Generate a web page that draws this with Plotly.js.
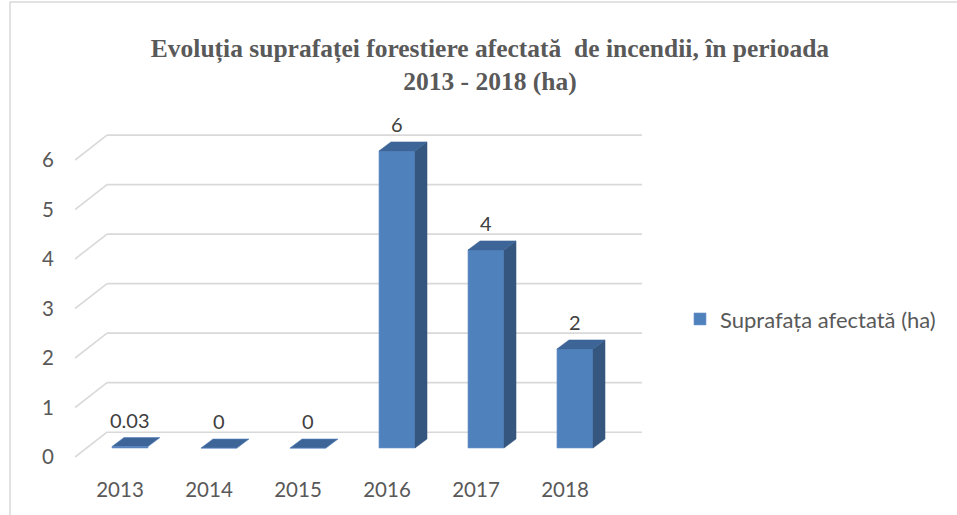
<!DOCTYPE html>
<html>
<head>
<meta charset="utf-8">
<script src="https://cdn.plot.ly/plotly-3.0.1.min.js"></script>
<style>html,body{margin:0;padding:0;background:#fff;}#chart{width:957px;height:515px;}</style>
</head>
<body>
<div id="chart"></div>
<script>
// ---- data ----
const years = ["2013", "2014", "2015", "2016", "2017", "2018"];
const values = [0.03, 0, 0, 6, 4, 2];
const valueLabels = ["0.03", "0", "0", "6", "4", "2"];
const yTicks = [0, 1, 2, 3, 4, 5, 6];
const seriesName = "Suprafața afectată (ha)";
const titleText = "Evoluția suprafaței forestiere afectată\u00a0 de incendii, în perioada<br>2013 - 2018 (ha)";

// ---- 3D look (style constants) ----
const idx = years.map((_, i) => i);
const barW = 0.405;      // front face width (category units)
const dx = 0.135;        // depth offset in x (category units)
const dy = 0.182;        // depth offset in y (value units)
const gridBack = 0.32;   // back wall offset (value units)
const xMin = -0.618, xMax = 5.753;
const backX = -0.258;
const sideColor = "#35567F";
const topColor = "#3D6597";
const frontColor = "#4F81BD";
const gridColor = "#D9D9D9";
const numFont = "Lato, 'Open Sans', sans-serif";

const shapes = [];
// chart border
shapes.push({type: "rect", xref: "paper", yref: "paper", x0: -0.1146, x1: 1.6, y0: 1.3371, y1: -0.2,
  line: {color: "#D9D9D9", width: 1.5}, layer: "below"});
// gridlines: back wall + floor diagonals
yTicks.forEach(v => {
  shapes.push({type: "line", xref: "x", yref: "y", x0: backX, x1: xMax, y0: v + gridBack, y1: v + gridBack,
    line: {color: gridColor, width: 1.6}, layer: "below"});
  shapes.push({type: "line", xref: "x", yref: "y", x0: xMin, x1: backX, y0: v - dy, y1: v + gridBack,
    line: {color: gridColor, width: 1.6}, layer: "below"});
});
// side and top faces
idx.forEach(i => {
  const v = values[i];
  const xl = i - barW / 2, xr = i + barW / 2;
  if (v > 0.5) {
    shapes.push({type: "path", xref: "x", yref: "y",
      path: `M ${xr},0 L ${xr + dx},${dy} L ${xr + dx},${v + dy} L ${xr},${v} Z`,
      fillcolor: sideColor, line: {color: sideColor, width: 0.5}, layer: "above"});
  }
  shapes.push({type: "path", xref: "x", yref: "y",
    path: `M ${xl},${v} L ${xl + dx},${v + dy} L ${xr + dx},${v + dy} L ${xr},${v} Z`,
    fillcolor: topColor, line: {color: v > 0.5 ? topColor : "#5a86c0", width: 0.6}, layer: "above"});
});

const annotations = idx.map(i => ({
  x: i, y: values[i] + dy, xref: "x", yref: "y", text: valueLabels[i], showarrow: false,
  yanchor: "bottom", xanchor: "center", yshift: 4,
  font: {family: numFont, size: 20, color: "#404040"}
}));

const trace = {
  type: "bar", x: idx, y: values, name: seriesName, width: barW,
  marker: {color: frontColor, line: {color: "#7096cc", width: 0.6}},
  showlegend: true, hoverinfo: "x+y"
};

const layout = {
  width: 957, height: 515,
  margin: {l: 75, r: 315, t: 120, b: 45},
  paper_bgcolor: "#fff", plot_bgcolor: "rgba(0,0,0,0)",
  title: {text: titleText, x: 0.512, xanchor: "center", xref: "container", yref: "container", y: 0.890, yanchor: "top",
    font: {family: "'Liberation Serif', 'Times New Roman', serif", size: 25.5, color: "#595959", weight: "bold"}},
  xaxis: {range: [xMin, xMax], tickvals: idx, ticktext: years, showgrid: false, zeroline: false, showline: false,
    ticks: "", ticklabelshift: -10, ticklabelstandoff: 5, fixedrange: true,
    tickfont: {family: numFont, size: 20.5, color: "#595959"}},
  yaxis: {range: [-0.444, 6.626], tickvals: yTicks, ticktext: yTicks.map(String), showgrid: false, zeroline: false,
    showline: false, ticks: "", ticklabelshift: 9, ticklabelstandoff: 20, fixedrange: true,
    tickfont: {family: numFont, size: 20.5, color: "#595959"}},
  showlegend: true,
  legend: {x: 1.067, y: 0.431, xanchor: "left", yanchor: "middle", bgcolor: "rgba(0,0,0,0)",
    font: {family: numFont, size: 22, color: "#595959"}},
  shapes: shapes, annotations: annotations, bargap: 0
};

Plotly.newPlot("chart", [trace], layout, {displayModeBar: false, staticPlot: true});
</script>
</body>
</html>
